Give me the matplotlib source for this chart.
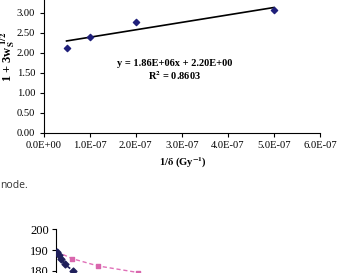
import matplotlib.pyplot as plt
import numpy as np

plt.rcParams['font.family'] = ['Liberation Serif', 'DejaVu Serif']
plt.rcParams['mathtext.fontset'] = 'stix'

# top chart: 1 + 3w_s^1/2 vs 1/dose
inv_dose = [5e-8, 1e-7, 2e-7, 5e-7]
ws_term = [2.13, 2.40, 2.77, 3.07]
slope = 1.86e6
intercept = 2.20
x_ticks = [0, 1e-7, 2e-7, 3e-7, 4e-7, 5e-7, 6e-7]
x_tick_labels = ['0.0E+00', '1.0E-07', '2.0E-07', '3.0E-07', '4.0E-07', '5.0E-07', '6.0E-07']
y_ticks = [0, 0.5, 1.0, 1.5, 2.0, 2.5, 3.0]

# bottom chart (cropped): two series
navy_x = [0.3, 1.4, 2.2, 3.6, 7.0]
navy_y = [189.0, 187.7, 185.6, 183.2, 180.0]
pink_x = [0.3, 6.8, 17.5, 34.3]
pink_y = [189.2, 185.8, 182.3, 179.1]
bottom_ticks = [180, 190, 200]

W, H = 340, 273
fig = plt.figure(figsize=(W / 100, H / 100), dpi=100)

# ---- top chart
ax = fig.add_axes([43.5 / W, 1 - 132.7 / H, (320 - 43.5) / W, 132.7 / H])
ax.scatter(inv_dose, ws_term, marker='D', s=10, color='#1f1f7a', zorder=3)
xs = np.array([inv_dose[0], inv_dose[-1]])
ax.plot(xs, slope * xs + intercept, color='black', lw=1.2)
ax.set_xlim(0, 6e-7)
ax.set_ylim(0, 132.7 / 40)
ax.set_xticks(x_ticks)
ax.set_xticklabels(x_tick_labels)
ax.set_yticks(y_ticks)
ax.set_yticklabels(['%.2f' % v for v in y_ticks])
ax.tick_params(labelsize=7.6, length=3, width=0.8, direction='out', pad=3)
for s in ['top', 'right']:
    ax.spines[s].set_visible(False)
for s in ['left', 'bottom']:
    ax.spines[s].set_linewidth(0.8)
ax.text(2.85e-7, 1.74, 'y = 1.86E+06x + 2.20E+00', ha='center', va='center',
        fontsize=7.5, fontweight='bold')
ax.text(2.85e-7, 1.43, r'R$^{\mathbf{2}}$ = 0.8603', ha='center', va='center',
        fontsize=7.5, fontweight='bold')
fig.text(183 / W, 1 - 163 / H, r'1/$\mathbf{\delta}$ (Gy$^{\mathbf{-1}}$)', ha='center',
         va='center', fontsize=7.6, fontweight='bold')
fig.text(8 / W, 1 - 57 / H, r'1 + 3w$_{\mathbf{S}}^{\ \mathbf{1/2}}$', ha='center',
         va='center', rotation=90, fontsize=9, fontweight='bold')

# ---- page text
fig.text(0.5 / W, 1 - 185 / H, 'node.', fontsize=7.5, family='Open Sans',
         color='#333333', ha='left', va='center')

# ---- bottom chart (cut off)
ax2 = fig.add_axes([56 / W, 0, (335 - 56) / W, (273 - 229.3) / H])
ax2.plot(pink_x, pink_y, ls='--', color='#e070b8', lw=1, dashes=(3, 2))
ax2.scatter(pink_x[1:], pink_y[1:], marker='s', s=12, color='#d966ad', zorder=3)
ax2.plot(navy_x, navy_y, ls='--', color='#1f1f5a', lw=1.2, dashes=(3, 2))
ax2.scatter(navy_x, navy_y, marker='D', s=12, color='#1f1f5a', zorder=4)
ax2.set_xlim(0, 116)
ax2.set_ylim(178.9, 200)
ax2.set_yticks(bottom_ticks)
ax2.set_xticks([])
ax2.tick_params(labelsize=9, length=3, width=0.8, direction='out', pad=2)
for s in ['top', 'right', 'bottom']:
    ax2.spines[s].set_visible(False)
ax2.spines['left'].set_linewidth(0.8)

fig.savefig('out.png', dpi=100)
